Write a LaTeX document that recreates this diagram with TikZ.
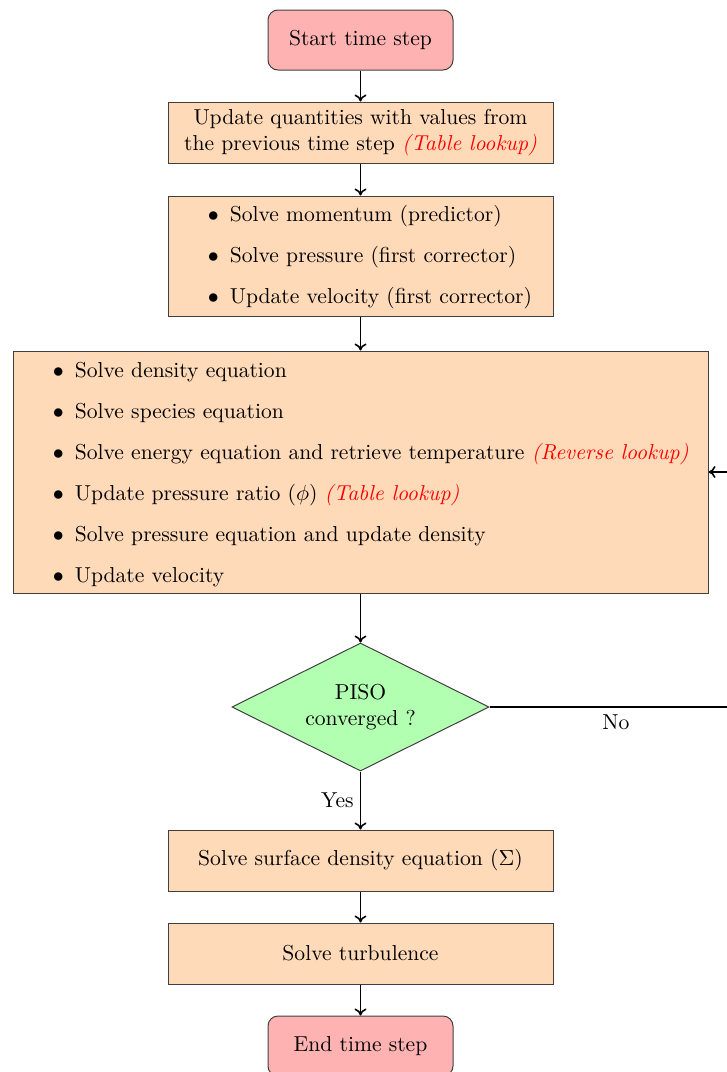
\documentclass[tikz,border=0pt]{standalone}
\usetikzlibrary{shapes.geometric,arrows.meta}
\definecolor{boxfill}{RGB}{255,218,185}
\definecolor{termfill}{RGB}{255,178,178}
\definecolor{decfill}{RGB}{178,255,178}
\definecolor{lookred}{RGB}{255,0,0}
\newcommand{\lookup}[1]{\textcolor{lookred}{\textit{#1}}}
\begin{document}
\begin{tikzpicture}[x=0.5pt,y=-0.5pt,
  font=\fontsize{10.8}{13}\selectfont,
  box/.style={draw=black!75, line width=0.5pt, fill=boxfill, inner sep=0pt},
  term/.style={draw=black!75, line width=0.5pt, fill=termfill, rounded corners=5pt, inner sep=0pt, minimum width=92.5pt, minimum height=30pt},
  dec/.style={diamond, draw=black!75, line width=0.5pt, fill=decfill, aspect=2, inner sep=0pt, minimum width=128.5pt, minimum height=64pt, align=center},
  conn/.style={line width=0.8pt, -{To[length=3.5pt,width=6pt]}},
  itemtext/.style={anchor=west, align=left, inner sep=0pt, font=\fontsize{10.8}{20.5}\selectfont}
]
\useasboundingbox (0,0) rectangle (727,1072);
\clip (0,0) rectangle (727,1072);

\node[term] (start) at (360.5,40) {Start time step};
\node[box, minimum width=192.5pt, minimum height=30.5pt, align=center] (b1) at (360.5,132.5)
  {Update quantities with values from\\the previous time step \lookup{(Table lookup)}};
\node[box, minimum width=192.5pt, minimum height=60pt] (b2) at (360.5,256) {};
\node[itemtext] (t2) at ([xshift=20pt,yshift=-0.75pt]b2.west)
  {$\bullet$\hspace{5.5pt}Solve momentum (predictor)\\
   $\bullet$\hspace{5.5pt}Solve pressure (first corrector)\\
   $\bullet$\hspace{5.5pt}Update velocity (first corrector)};
\node[box, minimum width=347.5pt, minimum height=121pt] (b3) at (360.5,472) {};
\node[itemtext] (t3) at ([xshift=20pt,yshift=-1.5pt]b3.west)
  {$\bullet$\hspace{5.5pt}Solve density equation\\
   $\bullet$\hspace{5.5pt}Solve species equation\\
   $\bullet$\hspace{5.5pt}Solve energy equation and retrieve temperature \lookup{(Reverse lookup)}\\
   $\bullet$\hspace{5.5pt}Update pressure ratio ($\phi$) \lookup{(Table lookup)}\\
   $\bullet$\hspace{5.5pt}Solve pressure equation and update density\\
   $\bullet$\hspace{5.5pt}Update velocity};
\node[dec] (d) at (360.5,707) {PISO\\converged ?};
\node[box, minimum width=192.5pt, minimum height=30.5pt] (b4) at (360.5,860.5) {Solve surface density equation ($\Sigma$)};
\node[box, minimum width=192.5pt, minimum height=30.5pt] (b5) at (360.5,953.5) {Solve turbulence};
\node[term] (end) at (360.5,1046) {End time step};
\coordinate (c1) at (745,707);
\coordinate (c2) at (745,472);

\draw[conn] (start) -- (b1);
\draw[conn] (b1) -- (b2);
\draw[conn] (b2) -- (b3);
\draw[conn] (b3) -- (d);
\draw[conn] (d) -- node[left, inner sep=3pt] {Yes} (b4);
\draw[conn] (b4) -- (b5);
\draw[conn] (b5) -- (end);
\draw[conn] (d.east) -- node[pos=0.495, below=0pt] (no) {No} (c1) -- (c2) -- (b3.east);
\end{tikzpicture}
\end{document}
